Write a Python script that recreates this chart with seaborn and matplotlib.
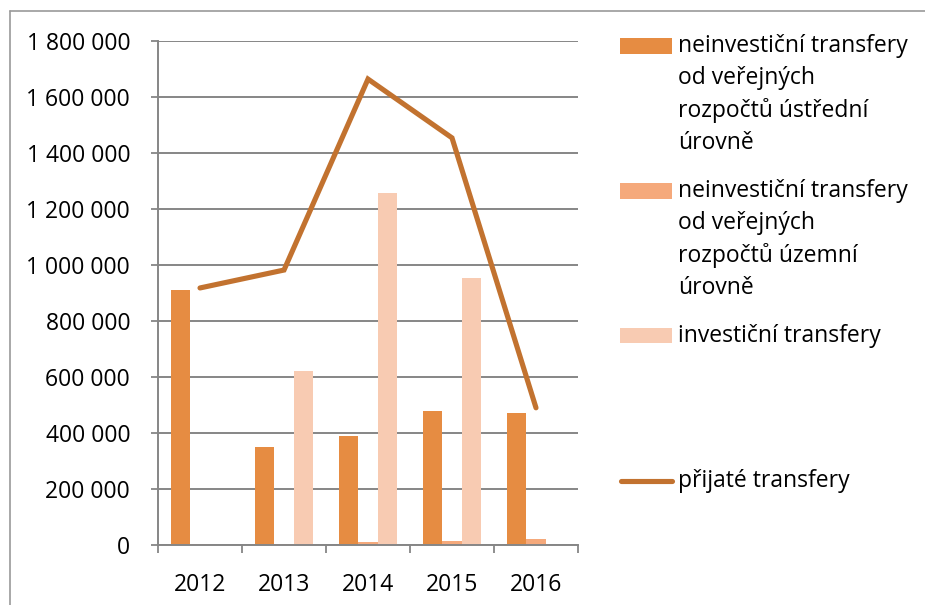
import matplotlib

matplotlib.use("Agg")
import matplotlib.pyplot as plt
import numpy as np
import pandas as pd
import seaborn as sns
from matplotlib.lines import Line2D
from matplotlib.patches import Rectangle
from matplotlib.ticker import FuncFormatter

years = ["2012", "2013", "2014", "2015", "2016"]
neinv_ustredni = [910000, 350000, 390000, 480000, 470000]
neinv_uzemni = [5000, 5000, 10000, 15000, 21000]
investicni = [0, 620000, 1257000, 954000, 0]
prijate = [918000, 982000, 1664000, 1454000, 490000]

series_names = [
    "neinvestiční transfery od veřejných rozpočtů ústřední úrovně",
    "neinvestiční transfery od veřejných rozpočtů územní úrovně",
    "investiční transfery",
]
legend_lines = [
    ["neinvestiční transfery", "od veřejných", "rozpočtů ústřední", "úrovně"],
    ["neinvestiční transfery", "od veřejných", "rozpočtů územní", "úrovně"],
    ["investiční transfery"],
]
line_name = "přijaté transfery"

bar_colors = ["#E68C42", "#F5A97B", "#F8CBB2"]
line_color = "#C2722F"
grid_color = "#868686"

sns.set_theme(style="white")
plt.rcParams["font.family"] = ["Open Sans", "DejaVu Sans"]
FS = 16.5

df = pd.DataFrame(
    {
        "year": years * 3,
        "series": np.repeat(series_names, len(years)),
        "value": neinv_ustredni + neinv_uzemni + investicni,
    }
)

fig = plt.figure(figsize=(9.25, 6.05), dpi=100)
ax = fig.add_axes([158 / 925, 1 - 545 / 605, 420 / 925, 504 / 605])

sns.barplot(
    data=df,
    x="year",
    y="value",
    hue="series",
    hue_order=series_names,
    palette=bar_colors,
    width=0.68,
    linewidth=0,
    saturation=1,
    legend=False,
    ax=ax,
)
sns.lineplot(
    x=np.arange(len(years)),
    y=prijate,
    color=line_color,
    linewidth=3.7,
    ax=ax,
)
for ln in ax.lines:
    ln.set_solid_capstyle("round")
    ln.set_solid_joinstyle("miter")

ax.set_xlim(-0.5, len(years) - 0.5)
ax.set_ylim(0, 1800000)
ax.set_yticks(np.arange(0, 1800001, 200000))
ax.yaxis.set_major_formatter(
    FuncFormatter(lambda v, p: f"{int(v):,}".replace(",", " "))
)
ax.set_xticks(range(len(years)))
ax.set_xticklabels(years)
ax.set_xticks(np.arange(-0.5, len(years)), minor=True)
ax.set_xlabel("")
ax.set_ylabel("")

ax.grid(axis="y", color=grid_color, linewidth=1.4)
ax.set_axisbelow(True)
for s in ["top", "right"]:
    ax.spines[s].set_visible(False)
for s in ["left", "bottom"]:
    ax.spines[s].set_color(grid_color)
    ax.spines[s].set_linewidth(1.4)

ax.tick_params(axis="y", which="major", left=True, length=5, width=1.3,
               color=grid_color, pad=15, labelsize=FS, labelcolor="black")
ax.tick_params(axis="x", which="major", bottom=False, length=0, pad=20,
               labelsize=FS, labelcolor="black")
ax.tick_params(axis="x", which="minor", bottom=True, length=6, width=1.3,
               color=grid_color)

# chart area border
fig.add_artist(Line2D([9.5 / 925, 9.5 / 925], [0, 1 - 10.5 / 605],
                      transform=fig.transFigure, color="#9A9A9A", lw=1.2))
fig.add_artist(Line2D([9.5 / 925, 1], [1 - 10.5 / 605, 1 - 10.5 / 605],
                      transform=fig.transFigure, color="#9A9A9A", lw=1.2))

# legend
entry_tops = [46, 191, 336]
for lines, top, col in zip(legend_lines, entry_tops, bar_colors):
    fig.add_artist(Rectangle((620 / 925, 1 - (top + 7.5) / 605), 52 / 925, 15 / 605,
                             transform=fig.transFigure, color=col, lw=0))
    for i, t in enumerate(lines):
        fig.text(678 / 925, 1 - (top + i * 32.3) / 605, t, fontsize=FS,
                 va="center", ha="left", color="black")
fig.add_artist(Line2D([621 / 925, 672 / 925], [1 - 481 / 605, 1 - 481 / 605],
                      transform=fig.transFigure, color=line_color, lw=3.7,
                      solid_capstyle="round"))
fig.text(678 / 925, 1 - 481 / 605, line_name, fontsize=FS, va="center",
         ha="left", color="black")

fig.savefig("out.png", dpi=100)
